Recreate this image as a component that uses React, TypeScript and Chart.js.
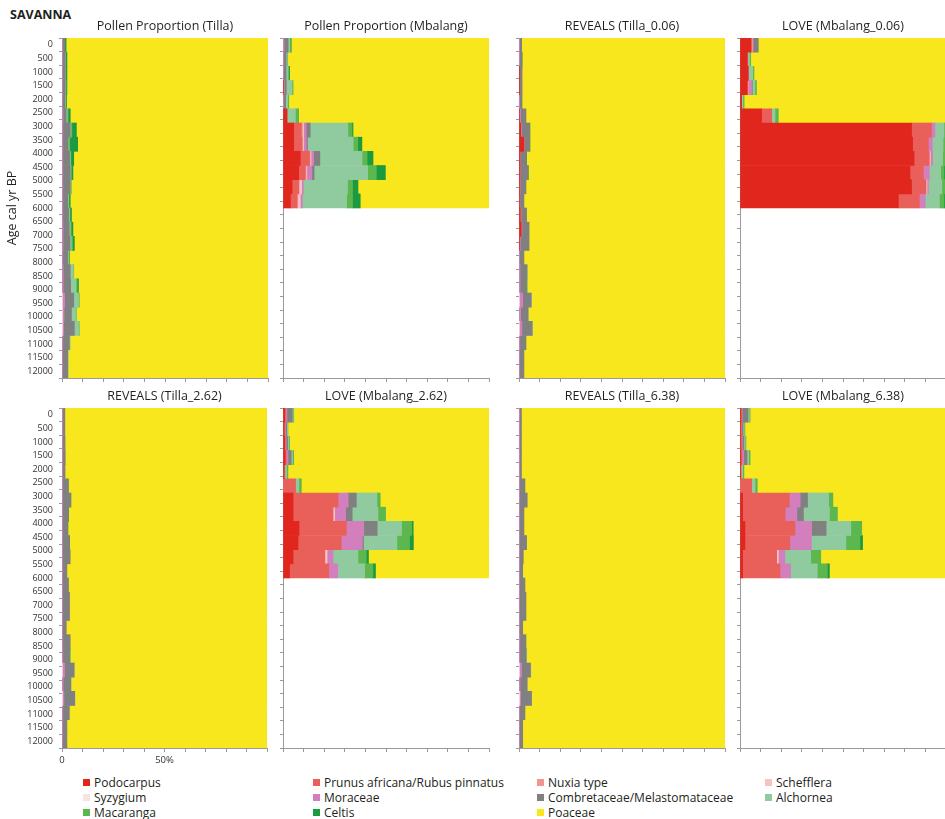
import React, { useEffect, useRef } from 'react';
import { Chart, registerables } from 'chart.js';

Chart.register(...registerables);

const FONT = "'Open Sans', 'DejaVu Sans', sans-serif";

const taxa = [
  'Podocarpus',
  'Prunus africana/Rubus pinnatus',
  'Nuxia type',
  'Schefflera',
  'Syzygium',
  'Moraceae',
  'Combretaceae/Melastomataceae',
  'Alchornea',
  'Macaranga',
  'Celtis',
  'Poaceae',
];
const taxonColors = [
  '#e0261d', '#e9605a', '#f2958e', '#f7c2bf', '#fbe2e2', '#d47fbd',
  '#808080', '#90cba0', '#5cb74e', '#1b9a40', '#f8e71c',
];

const intervalLabels = [
  '0-500', '500-1000', '1000-1500', '1500-2000', '2000-2500', '2500-3000',
  '3000-3500', '3500-4000', '4000-4500', '4500-5000', '5000-5500', '5500-6000',
  '6000-6500', '6500-7000', '7000-7500', '7500-8000', '8000-8500', '8500-9000',
  '9000-9500', '9500-10000', '10000-10500', '10500-11000', '11000-11500', '11500-12000',
];
const ageTickValues = [
  0, 500, 1000, 1500, 2000, 2500, 3000, 3500, 4000, 4500,
  5000, 5500, 6000, 6500, 7000, 7500, 8000, 8500, 9000, 9500,
  10000, 10500, 11000, 11500, 12000,
];
const ageTickLabels = [
  '0', '500', '1000', '1500', '2000', '2500', '3000', '3500', '4000', '4500',
  '5000', '5500', '6000', '6500', '7000', '7500', '8000', '8500', '9000', '9500',
  '10000', '10500', '11000', '11500', '12000',
];
const xTickValues = [0, 10, 20, 30, 40, 50, 60, 70, 80, 90, 100];
const xTickLabels = ['0', '', '', '', '', '50%', '', '', '', '', ''];

// Each row: one 500-yr interval; columns follow `taxa` order (percent).
const tillaPollen = [
  [0, 0, 0, 0, 0, 0.2, 1.2, 0, 0, 0.6, 98.0],
  [0, 0, 0, 0, 0, 0.2, 1.4, 0.2, 0, 0.6, 97.6],
  [0, 0, 0, 0, 0, 0.2, 1.4, 0.2, 0, 0.6, 97.6],
  [0, 0, 0, 0, 0, 0.2, 1.4, 0.3, 0, 0.5, 97.6],
  [0, 0, 0, 0, 0, 0.2, 1.2, 0.2, 0.2, 0.4, 97.8],
  [0, 0, 0, 0, 0, 0.5, 1.5, 0.5, 0.5, 1.0, 96.0],
  [0, 0, 0, 0, 0, 0.4, 3.6, 0.3, 0.5, 2.2, 93.0],
  [0, 0, 0, 0, 0, 0.4, 2.6, 0.3, 0.5, 3.8, 92.4],
  [0, 0, 0, 0, 0, 0.4, 3.3, 0.3, 0.3, 1.4, 94.3],
  [0, 0, 0, 0, 0, 0.4, 3.6, 0.3, 0.2, 0.8, 94.7],
  [0, 0, 0, 0, 0, 0.4, 3.6, 0.2, 0, 0.2, 95.6],
  [0, 0, 0, 0, 0, 0.4, 2.4, 0.3, 0.3, 0.6, 96.0],
  [0, 0, 0, 0, 0, 0.4, 2.8, 0.4, 0.3, 0.7, 95.4],
  [0, 0, 0, 0, 0, 0.5, 3.0, 0.5, 0.5, 0.8, 94.7],
  [0, 0, 0, 0, 0, 0.5, 3.4, 0.6, 0.6, 0.9, 94.0],
  [0, 0, 0, 0, 0, 0.4, 2.4, 0.4, 0.2, 0.2, 96.4],
  [0, 0, 0, 0, 0, 0.6, 3.4, 1.5, 0.2, 0, 94.3],
  [0, 0, 0, 0, 0, 0.6, 3.6, 2.6, 0.6, 0.6, 92.0],
  [0, 0, 0, 0, 0.3, 1.0, 4.4, 2.3, 0.4, 0, 91.6],
  [0, 0, 0, 0, 0.2, 0.8, 3.6, 2.2, 0.2, 0, 93.0],
  [0, 0, 0, 0, 0.2, 0.6, 5.2, 2.2, 0.2, 0, 91.6],
  [0, 0, 0, 0, 0, 0.4, 3.2, 0.4, 0, 0, 96.0],
  [0, 0, 0, 0, 0, 0.3, 2.5, 0.2, 0, 0, 97.0],
  [0, 0, 0, 0, 0, 0.3, 2.5, 0.2, 0, 0, 97.0],
];

const mbalangPollen = [
  [0, 0, 0, 0, 0, 0.5, 2.0, 0.8, 0.3, 0.4, 96.0],
  [0, 0, 0, 0, 0, 0.3, 1.2, 0.5, 0.3, 0, 97.7],
  [0, 0, 0, 0, 0, 0.3, 1.2, 0.9, 0.3, 0.5, 96.8],
  [0.3, 0, 0, 0, 0, 0.3, 1.0, 2.8, 0.5, 0, 95.1],
  [0, 0, 0, 0, 0, 0.3, 1.0, 1.0, 0.5, 0, 97.2],
  [2.0, 0, 0, 0, 0, 0, 0, 4.0, 1.6, 0, 92.4],
  [5.2, 3.7, 0.6, 0.5, 0, 1.2, 2.0, 18.3, 2.0, 0.5, 66.0],
  [5.2, 4.0, 0.4, 0.4, 0, 1.3, 0.6, 22.2, 2.2, 2.0, 61.7],
  [8.4, 4.5, 0.3, 0.4, 0, 1.3, 3.0, 20.5, 2.4, 2.9, 56.3],
  [7.6, 3.2, 0.4, 0.4, 0, 2.4, 1.1, 26.0, 4.2, 4.4, 50.3],
  [4.4, 3.2, 0.3, 0.8, 0.2, 1.0, 0, 21.4, 2.4, 2.7, 63.6],
  [3.6, 3.2, 0.3, 1.0, 0.2, 1.1, 0, 21.5, 2.8, 3.8, 62.5],
];

const tillaReveals006 = [
  [0, 0, 0, 0, 0, 0.1, 1.2, 0, 0, 0, 98.7],
  [0, 0, 0, 0, 0, 0.1, 1.3, 0, 0, 0.1, 98.5],
  [0.1, 0, 0, 0, 0, 0.1, 1.3, 0, 0, 0, 98.5],
  [0.1, 0, 0, 0, 0, 0.1, 1.3, 0, 0, 0, 98.5],
  [0, 0, 0, 0, 0, 0.1, 1.4, 0, 0, 0, 98.5],
  [0.2, 0, 0, 0, 0, 0.5, 2.7, 0, 0, 0, 96.6],
  [0.8, 0.2, 0, 0, 0, 0.2, 4.0, 0, 0, 0.1, 94.7],
  [2.4, 0, 0, 0, 0, 0.2, 2.6, 0, 0, 0.1, 94.7],
  [0.5, 0, 0, 0, 0, 0.2, 2.9, 0, 0, 0.1, 96.3],
  [0.5, 0, 0, 0, 0, 0.2, 3.7, 0, 0, 0.1, 95.5],
  [0.4, 0, 0, 0, 0, 0.2, 2.8, 0, 0, 0, 96.6],
  [0.2, 0, 0, 0, 0, 0.2, 2.0, 0, 0, 0, 97.6],
  [0.5, 0.3, 0, 0, 0, 0.2, 2.7, 0, 0, 0, 96.3],
  [1.0, 0.2, 0, 0, 0, 0.2, 3.5, 0, 0, 0, 95.1],
  [0.3, 0, 0, 0, 0, 0.3, 4.3, 0, 0, 0, 95.1],
  [0, 0, 0, 0, 0, 0.3, 2.1, 0, 0, 0, 97.6],
  [0, 0, 0, 0, 0, 0.5, 3.4, 0.1, 0, 0, 96.0],
  [0, 0, 0, 0, 0, 0.5, 3.2, 0.1, 0.2, 0, 96.0],
  [0, 0, 0, 0, 0.2, 1.6, 4.1, 0.2, 0, 0, 93.9],
  [0, 0, 0, 0, 0, 0.8, 3.6, 0.1, 0, 0, 95.5],
  [0, 0, 0, 0, 0.2, 1.2, 5.0, 0.1, 0, 0, 93.5],
  [0, 0, 0, 0, 0, 0.4, 3.0, 0, 0, 0, 96.6],
  [0, 0, 0, 0, 0, 0.2, 2.2, 0, 0, 0, 97.6],
  [0, 0, 0, 0, 0, 0.2, 2.2, 0, 0, 0, 97.6],
];

const mbalangLove006 = [
  [5.2, 0.5, 0.4, 0, 0, 0.3, 2.5, 0, 0, 0, 91.1],
  [3.6, 0, 0, 0, 0, 0.2, 0, 0.8, 0.6, 0, 94.8],
  [4.0, 0, 0, 0, 0, 0.2, 0, 2.0, 0.6, 0, 93.2],
  [3.6, 0, 0.6, 0, 0, 1.4, 0.4, 1.2, 0.8, 0, 92.0],
  [0.8, 0, 0, 0, 0, 0, 0, 0.6, 0.6, 0, 98.0],
  [10.5, 4.9, 0, 0, 0, 0, 0, 1.6, 1.6, 0, 81.4],
  [83.3, 9.7, 0, 0, 0, 1.6, 0, 4.4, 1.0, 0, 0],
  [83.8, 7.6, 0, 0, 0, 2.0, 0, 5.2, 1.4, 0, 0],
  [84.5, 7.4, 0, 0.5, 0, 1.1, 0, 4.9, 1.6, 0, 0],
  [82.5, 6.5, 0, 0, 0, 2.9, 0, 5.5, 1.6, 1.0, 0],
  [83.3, 7.0, 0, 0.5, 0, 0.7, 0, 6.5, 1.5, 0.5, 0],
  [76.9, 10.2, 0, 0, 0, 2.8, 0, 6.9, 2.2, 1.0, 0],
];

const tillaReveals262 = [
  [0, 0, 0, 0, 0, 0.2, 1.2, 0, 0, 0, 98.6],
  [0, 0, 0, 0, 0, 0.2, 1.2, 0, 0, 0, 98.6],
  [0, 0, 0, 0, 0, 0.2, 1.3, 0, 0, 0, 98.5],
  [0, 0, 0, 0, 0, 0.2, 1.4, 0, 0, 0, 98.4],
  [0, 0, 0, 0, 0, 0.2, 1.3, 0, 0, 0, 98.5],
  [0, 0, 0, 0, 0, 0.3, 2.9, 0, 0, 0, 96.8],
  [0, 0, 0, 0, 0, 0.3, 4.1, 0, 0, 0, 95.6],
  [0, 0, 0, 0, 0, 0.2, 2.9, 0, 0, 0.1, 96.8],
  [0, 0, 0, 0, 0, 0.2, 2.6, 0, 0, 0.1, 97.1],
  [0, 0, 0, 0, 0, 0.2, 3.4, 0, 0, 0.1, 96.3],
  [0, 0, 0, 0, 0, 0.2, 3.8, 0, 0, 0, 96.0],
  [0, 0, 0, 0, 0, 0.2, 2.2, 0, 0, 0, 97.6],
  [0, 0, 0, 0, 0, 0.2, 3.0, 0, 0, 0, 96.8],
  [0, 0, 0, 0, 0, 0.3, 3.4, 0, 0, 0, 96.3],
  [0, 0, 0, 0, 0, 0.3, 3.4, 0, 0, 0, 96.3],
  [0, 0, 0, 0, 0, 0.2, 1.9, 0, 0, 0, 97.9],
  [0, 0, 0, 0, 0, 0.4, 3.6, 0, 0, 0, 96.0],
  [0, 0, 0, 0, 0, 0.4, 3.4, 0.1, 0.1, 0, 96.0],
  [0, 0, 0, 0, 0.2, 1.0, 4.7, 0.1, 0, 0, 94.0],
  [0, 0, 0, 0, 0, 0.6, 3.7, 0.1, 0, 0, 95.6],
  [0, 0, 0, 0, 0.1, 0.8, 5.3, 0.1, 0, 0, 93.7],
  [0, 0, 0, 0, 0, 0.4, 3.2, 0, 0, 0, 96.4],
  [0, 0, 0, 0, 0, 0.2, 2.2, 0, 0, 0, 97.6],
  [0, 0, 0, 0, 0, 0.2, 2.2, 0, 0, 0, 97.6],
];

const mbalangLove262 = [
  [0.8, 0.6, 0, 0, 0, 0.5, 2.6, 0.4, 0.3, 0, 94.8],
  [0.5, 0.4, 0, 0, 0, 0.3, 0.6, 0.4, 0.2, 0, 97.6],
  [0.8, 0.4, 0, 0, 0, 0.3, 0.8, 0.5, 0.4, 0, 96.8],
  [1.0, 0.6, 0, 0, 0, 0.8, 1.6, 0.6, 0.6, 0, 94.8],
  [0.5, 0.4, 0, 0, 0, 0, 0, 0.8, 0.7, 0, 97.6],
  [0, 6.1, 0, 0, 0, 0, 0, 1.6, 1.2, 0, 91.1],
  [4.9, 21.8, 0, 0, 0, 4.9, 4.0, 10.0, 1.6, 0, 52.8],
  [4.9, 19.4, 0, 0.8, 0, 5.3, 3.2, 12.5, 3.7, 0, 50.2],
  [7.8, 23.0, 0, 0, 0, 8.4, 6.5, 11.8, 4.9, 0.8, 36.8],
  [7.3, 21.0, 0, 0, 0, 10.2, 0.6, 16.2, 6.1, 1.9, 36.7],
  [4.9, 15.4, 0, 1.1, 0, 2.9, 0, 12.1, 4.0, 1.1, 58.5],
  [3.2, 19.0, 0, 0, 0, 4.4, 0, 13.0, 4.0, 1.3, 55.1],
];

const tillaReveals638 = [
  [0, 0, 0, 0, 0, 0.1, 1.1, 0, 0, 0, 98.8],
  [0, 0, 0, 0, 0, 0.1, 1.1, 0, 0, 0, 98.8],
  [0, 0, 0, 0, 0, 0.1, 1.1, 0, 0, 0, 98.8],
  [0, 0, 0, 0, 0, 0.1, 1.1, 0, 0, 0, 98.8],
  [0, 0, 0, 0, 0, 0.1, 1.1, 0, 0, 0, 98.8],
  [0, 0, 0, 0, 0, 0.3, 2.6, 0, 0, 0, 97.1],
  [0, 0, 0, 0, 0, 0.3, 3.7, 0, 0, 0, 96.0],
  [0, 0, 0, 0, 0, 0.2, 2.2, 0, 0, 0, 97.6],
  [0, 0, 0, 0, 0, 0.2, 2.2, 0, 0, 0, 97.6],
  [0, 0, 0, 0, 0, 0.2, 3.5, 0, 0, 0, 96.3],
  [0, 0, 0, 0, 0, 0.2, 1.9, 0, 0, 0, 97.9],
  [0, 0, 0, 0, 0, 0.2, 1.6, 0, 0, 0, 98.2],
  [0, 0, 0, 0, 0, 0.3, 2.6, 0, 0, 0, 97.1],
  [0, 0, 0, 0, 0, 0.3, 3.1, 0, 0, 0, 96.6],
  [0, 0, 0, 0, 0, 0.3, 3.1, 0, 0, 0, 96.6],
  [0, 0, 0, 0, 0, 0.2, 1.6, 0, 0, 0, 98.2],
  [0, 0, 0, 0, 0, 0.4, 3.0, 0, 0, 0, 96.6],
  [0, 0, 0, 0, 0, 0.4, 3.1, 0.2, 0, 0, 96.3],
  [0, 0, 0, 0, 0.2, 1.0, 4.4, 0.1, 0, 0, 94.3],
  [0, 0, 0, 0, 0, 0.5, 3.5, 0, 0, 0, 96.0],
  [0, 0, 0, 0, 0.1, 0.7, 5.3, 0, 0, 0, 93.9],
  [0, 0, 0, 0, 0, 0.3, 2.6, 0, 0, 0, 97.1],
  [0, 0, 0, 0, 0, 0.2, 1.6, 0, 0, 0, 98.2],
  [0, 0, 0, 0, 0, 0.2, 1.6, 0, 0, 0, 98.2],
];

const mbalangLove638 = [
  [0.4, 0.4, 0, 0, 0, 0.3, 2.8, 0.6, 0.4, 0, 95.1],
  [0.3, 0.4, 0, 0, 0, 0.2, 0.6, 0.5, 0.4, 0, 97.6],
  [0.3, 0.6, 0, 0, 0, 0.2, 0.8, 0.6, 0.4, 0, 97.1],
  [0.4, 0.6, 0, 0, 0, 0.8, 1.6, 0.8, 0.7, 0, 95.1],
  [0.2, 0.4, 0, 0, 0, 0, 0, 0.7, 0.6, 0, 98.1],
  [0, 5.7, 0, 0, 0, 0, 0, 1.6, 1.1, 0, 91.6],
  [1.3, 22.7, 0, 0, 0, 5.2, 3.6, 10.2, 2.1, 0, 54.9],
  [1.3, 20.6, 0, 0, 0, 5.7, 3.2, 12.6, 3.9, 0, 52.7],
  [2.4, 24.3, 0, 0, 0, 8.1, 7.0, 12.0, 5.3, 0, 40.9],
  [2.4, 21.8, 0, 0, 0, 10.5, 0, 16.7, 6.8, 1.3, 40.5],
  [1.3, 16.5, 0, 0.8, 0, 3.2, 0, 12.5, 4.9, 0, 60.8],
  [1.3, 18.1, 0, 0, 0, 5.2, 0, 12.9, 4.9, 1.0, 56.6],
];

const panelTitles = [
  'Pollen Proportion (Tilla)', 'Pollen Proportion (Mbalang)', 'REVEALS (Tilla_0.06)', 'LOVE (Mbalang_0.06)',
  'REVEALS (Tilla_2.62)', 'LOVE (Mbalang_2.62)', 'REVEALS (Tilla_6.38)', 'LOVE (Mbalang_6.38)',
];
const panelRows = [
  tillaPollen, mbalangPollen, tillaReveals006, mbalangLove006,
  tillaReveals262, mbalangLove262, tillaReveals638, mbalangLove638,
];

// layout (pixels)
const PLOT_LEFTS = [62, 283, 519, 740];
const PLOT_TOPS = [38, 408];
const PLOT_W = 206;
const PLOT_H = 340;
const TITLE_H = 20;
const XAXIS_H = 22;
const AXIS_COLOR = '#9a9a9a';

type PanelProps = {
  title: string;
  rows: number[][];
  plotLeft: number;
  plotTop: number;
  firstCol: boolean;
  showX: boolean;
  showYTitle: boolean;
};

function Panel({ title, rows, plotLeft, plotTop, firstCol, showX, showYTitle }: PanelProps) {
  const ref = useRef<HTMLCanvasElement>(null);
  const leftW = firstCol ? 62 : 8;
  const w = leftW + PLOT_W + 2;
  const h = TITLE_H + PLOT_H + XAXIS_H;

  useEffect(() => {
    if (!ref.current) return;
    const datasets = taxa.map((name, t) => ({
      label: name,
      data: rows.map((r) => (r[t] ? r[t] : null)),
      backgroundColor: taxonColors[t],
      borderWidth: 0,
      barPercentage: 1,
      categoryPercentage: 1,
    }));
    const chart = new Chart(ref.current, {
      type: 'bar',
      data: { labels: intervalLabels, datasets },
      options: {
        responsive: false,
        animation: false,
        devicePixelRatio: 1,
        indexAxis: 'y',
        layout: { padding: { left: 0, right: 2, top: 0, bottom: 0 } },
        events: [],
        plugins: {
          legend: { display: false },
          tooltip: { enabled: false },
          title: {
            display: true,
            text: title,
            fullSize: false,
            color: '#231f20',
            font: { family: FONT, size: 12.5, weight: 'normal', lineHeight: '16px' },
            padding: { top: 0, bottom: 4 },
          },
        },
        scales: {
          x: {
            type: 'linear',
            position: 'bottom',
            min: 0,
            max: 100,
            stacked: true,
            ticks: {
              stepSize: 10,
              autoSkip: false,
              maxRotation: 0,
              display: showX,
              padding: 3,
              color: '#333',
              font: { family: FONT, size: 9.5 },
              callback: (v: any) => {
                const k = xTickValues.indexOf(Number(v));
                return k >= 0 ? xTickLabels[k] : '';
              },
            },
            grid: { drawOnChartArea: false, drawTicks: true, tickLength: 4, color: AXIS_COLOR },
            border: { display: true, color: AXIS_COLOR },
            afterFit: (s: any) => { s.height = XAXIS_H; },
          },
          y: {
            type: 'category',
            display: false,
            stacked: true,
            offset: true,
          },
          age: {
            type: 'linear',
            axis: 'y',
            position: 'left',
            reverse: true,
            min: 0,
            max: 12000,
            ticks: {
              stepSize: 500,
              maxTicksLimit: 100,
              autoSkip: false,
              display: firstCol,
              padding: 6,
              color: '#333',
              font: { family: FONT, size: 9 },
              callback: (v: any) => {
                const k = ageTickValues.indexOf(Number(v));
                return k >= 0 ? ageTickLabels[k] : '';
              },
            },
            grid: { drawOnChartArea: false, drawTicks: true, tickLength: 3, color: AXIS_COLOR },
            border: { display: true, color: AXIS_COLOR },
            title: {
              display: showYTitle,
              text: 'Age cal yr BP',
              color: '#231f20',
              font: { family: FONT, size: 12.5 },
              padding: { top: 5, bottom: 0 },
            },
            afterFit: (s: any) => { s.width = leftW; },
          },
        },
      } as any,
    });
    return () => chart.destroy();
  }, []);

  return (
    <canvas
      ref={ref}
      width={w}
      height={h}
      style={{ position: 'absolute', left: plotLeft - leftW, top: plotTop - TITLE_H, width: w, height: h }}
    />
  );
}

const LEGEND_COL_X = [83, 313, 537, 765];
const LEGEND_ROW_Y = [782, 797, 812];

export default function App() {
  return (
    <div
      style={{
        position: 'fixed',
        left: 0,
        top: 0,
        width: 945,
        height: 819,
        overflow: 'hidden',
        background: '#ffffff',
        fontFamily: FONT,
      }}
    >
      <div
        style={{
          position: 'absolute',
          left: 10,
          top: 6,
          fontSize: 12.5,
          fontWeight: 'bold',
          lineHeight: '17px',
          color: '#231f20',
        }}
      >
        SAVANNA
      </div>
      {panelTitles.map((t, i) => {
        const r = Math.floor(i / 4);
        const c = i % 4;
        return (
          <Panel
            key={t}
            title={t}
            rows={panelRows[i]}
            plotLeft={PLOT_LEFTS[c]}
            plotTop={PLOT_TOPS[r]}
            firstCol={c === 0}
            showX={r === 1 && c === 0}
            showYTitle={r === 0 && c === 0}
          />
        );
      })}
      {taxa.map((name, i) => {
        const r = Math.floor(i / 4);
        const c = i % 4;
        return (
          <div
            key={name}
            style={{
              position: 'absolute',
              left: LEGEND_COL_X[c],
              top: LEGEND_ROW_Y[r] - 8,
              height: 16,
              display: 'flex',
              alignItems: 'center',
              whiteSpace: 'nowrap',
              fontSize: 12,
              color: '#231f20',
            }}
          >
            <span
              style={{
                display: 'inline-block',
                width: 7,
                height: 7,
                background: taxonColors[i],
                marginRight: 4,
              }}
            />
            <span>{name}</span>
          </div>
        );
      })}
    </div>
  );
}
